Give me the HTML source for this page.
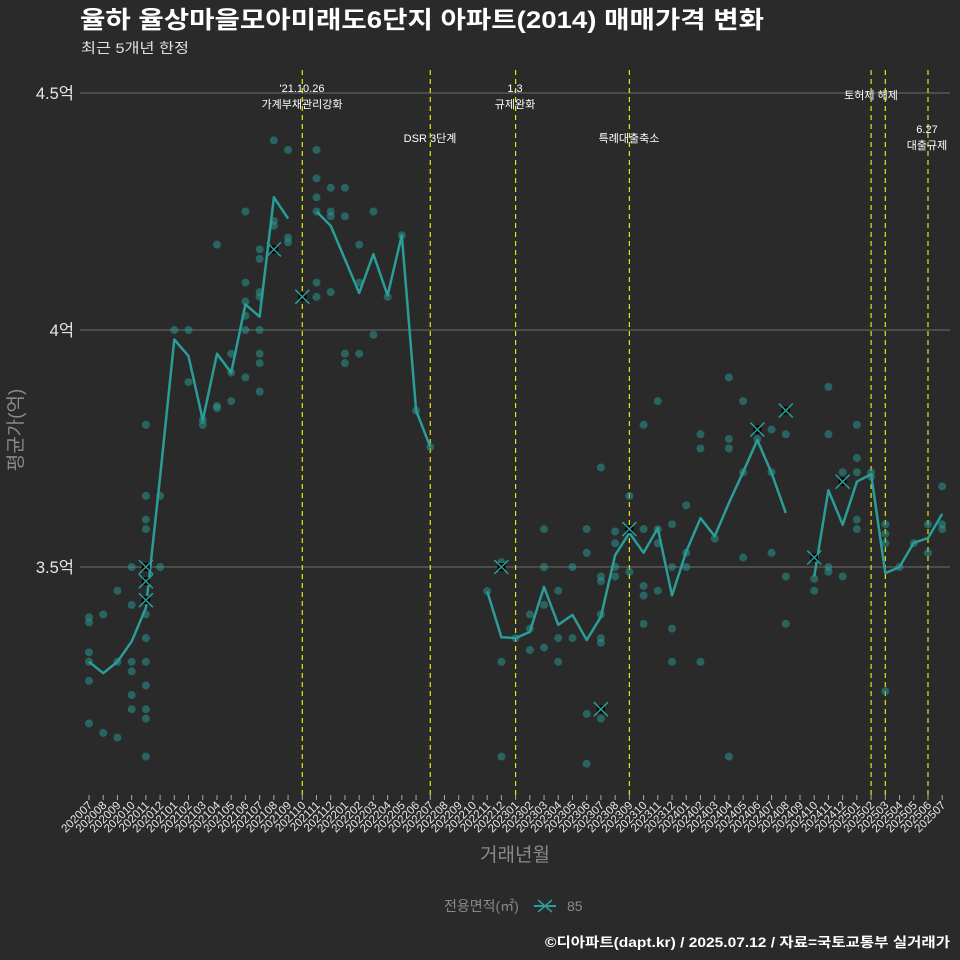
<!DOCTYPE html>
<html><head><meta charset="utf-8"><style>
body{margin:0;background:#2a2a2a;}
svg{display:block;font-family:"Liberation Sans","Noto Sans CJK KR",sans-serif;}
</style></head><body>
<svg id="chart" width="960" height="960" viewBox="0 0 960 960" xmlns="http://www.w3.org/2000/svg">
<rect width="960" height="960" fill="#2a2a2a"/>
<text x="80" y="28" font-size="24" font-weight="bold" fill="#ffffff" textLength="684" lengthAdjust="spacingAndGlyphs">율하 율상마을모아미래도6단지 아파트(2014) 매매가격 변화</text>
<text x="81" y="53" font-size="14" fill="#e0e0e0" textLength="108" lengthAdjust="spacingAndGlyphs">최근 5개년 한정</text>
<g id="grid"></g><g id="vlines"></g><g id="dots"></g><g id="line"></g><g id="xmarks"></g><g id="xaxis"></g><g id="yaxis"></g>
<text x="22" y="430" font-size="19" fill="#8a8a8a" transform="rotate(-90 22 430)" text-anchor="middle">평균가(억)</text>
<text x="515" y="861" font-size="19" fill="#8a8a8a" text-anchor="middle">거래년월</text>
<g>
<text x="444" y="911" font-size="14" fill="#8a8a8a">전용면적(㎡)</text>
<line x1="534" y1="906" x2="556" y2="906" stroke="#2a9d98" stroke-width="2"/>
<path d="M538 900 L552 912 M538 912 L552 900" stroke="#2a9d98" stroke-width="1.5"/>
<text x="567" y="911" font-size="14" fill="#8a8a8a">85</text>
</g>
<text x="950" y="947" font-size="13.5" font-weight="bold" fill="#ffffff" text-anchor="end" textLength="405" lengthAdjust="spacingAndGlyphs">©디아파트(dapt.kr) / 2025.07.12 / 자료=국토교통부 실거래가</text>
</svg>
<script>
const months = [];
for (let y = 2020, m = 7; months.length < 61; m++) { if (m > 12) { m = 1; y++; } months.push(String(y) + String(m).padStart(2, '0')); }
const lineValues = [3.30,3.276,3.30,3.343,3.414,3.69,3.98,3.945,3.81,3.95,3.91,4.054,4.028,4.28,4.235,null,4.25,4.22,4.149,4.078,4.16,4.073,4.20,3.83,3.753,null,null,null,3.449,3.352,3.35,3.363,3.458,3.378,3.399,3.346,3.395,3.525,3.572,3.53,3.582,3.44,3.532,3.603,3.565,3.635,3.70,3.768,3.698,3.614,null,3.48,3.662,3.589,3.68,3.696,3.487,3.50,3.551,3.561,3.612];
const dotMonths = ["202007","202008","202009","202010","202011","202012","202101","202102","202103","202104","202105","202106","202107","202108","202109","202111","202112","202201","202202","202203","202204","202205","202206","202207","202211","202212","202301","202302","202303","202304","202305","202306","202307","202308","202309","202310","202311","202312","202401","202402","202403","202404","202405","202406","202407","202408","202410","202411","202412","202501","202502","202503","202504","202505","202506","202507"];
const dotValues = [[3.394,3.383,3.32,3.30,3.26,3.17],[3.40,3.15],[3.45,3.30,3.14],[3.5,3.42,3.30,3.28,3.23,3.20],[3.80,3.65,3.60,3.58,3.5,3.40,3.35,3.30,3.25,3.20,3.18,3.10],[3.65,3.5],[4.0],[4.0,3.89],[3.80,3.81],[4.18,3.84,3.835],[3.95,3.91,3.85],[4.25,4.10,4.06,4.03,4.0,3.90],[4.17,4.15,4.08,4.07,4.0,3.95,3.93,3.87],[4.40,4.23,4.22],[4.38,4.195,4.185],[4.38,4.32,4.28,4.25,4.10,4.07],[4.30,4.25,4.24,4.08],[4.30,4.24,3.95,3.93],[4.18,4.10,3.95],[4.25,3.99],[4.07],[4.20],[3.83],[3.753],[3.449],[3.51,3.30,3.10],[3.35],[3.40,3.37,3.325],[3.58,3.50,3.42,3.33],[3.45,3.35,3.30],[3.50,3.35],[3.58,3.53,3.19,3.085],[3.71,3.48,3.47,3.40,3.35,3.34,3.18],[3.575,3.55,3.50,3.48],[3.65,3.49],[3.80,3.58,3.46,3.44,3.38],[3.85,3.58,3.55,3.45],[3.59,3.50,3.37,3.30],[3.63,3.53,3.50],[3.78,3.75,3.30],[3.56],[3.90,3.77,3.75,3.10],[3.85,3.70,3.52],[3.77],[3.79,3.70,3.53],[3.78,3.48,3.38],[3.475,3.45],[3.88,3.78,3.50,3.49],[3.70,3.48],[3.80,3.73,3.70,3.60,3.58],[3.70,3.69],[3.59,3.57,3.55,3.238],[3.50],[3.55],[3.59,3.53],[3.67,3.59,3.58]];
const crossMonths = ["202011","202011","202011","202108","202110","202212","202307","202309","202406","202408","202410","202412"];
const crossValues = [3.50,3.47,3.43,4.17,4.07,3.50,3.20,3.58,3.79,3.83,3.52,3.68];
const yTicks = [3.5,4.0,4.5];
const yTickLabels = ["3.5억","4억","4.5억"];
const eventMonths = ["202110","202207","202301","202309","202502","202503","202506"];
const eventLabels = [["'21.10.26","가계부채관리강화"],["DSR 3단계"],["1.3","규제완화"],["특례대출축소"],["토허제 해제"],[],["6.27","대출규제"]];
const eventLabelY = [92,142,92,142,99,0,133];
const eventLabelX = [302,430,515,629,871,885,927];

const NS="http://www.w3.org/2000/svg";
const xScale = i => 89 + i*14.22;
const xOf = m => xScale(months.indexOf(m));
const yScale = v => 567 - (v-3.5)*474;
function mk(tag, attrs, parent){const e=document.createElementNS(NS,tag);for(const k in attrs)e.setAttribute(k,attrs[k]);document.getElementById(parent).appendChild(e);return e;}

yTicks.forEach((t,i)=>{
  const l=mk('line',{x1:80,x2:950,y1:yScale(t),y2:yScale(t),stroke:'#6e6e6e','stroke-width':1},'grid');
  
  
  const tx=mk('text',{x:74,y:yScale(t)+6,'font-size':16.5,fill:'#e6e6e6','text-anchor':'end'},'yaxis');
  tx.textContent=yTickLabels[i];
  
  
});
eventMonths.forEach((m,i)=>{
  const l=mk('line',{x1:xOf(m),x2:xOf(m),y1:70,y2:795,stroke:'#e5e510','stroke-width':1.2,'stroke-dasharray':'5 4'},'vlines');
  
  
  eventLabels[i].forEach((s,j)=>{
    const t=mk('text',{x:eventLabelX[i],y:eventLabelY[i]+j*16,'font-size':11,fill:'#ffffff','text-anchor':'middle'},'vlines');
    t.textContent=s;
    
    
  });
});
dotMonths.forEach((m,i)=>{dotValues[i].forEach(v=>{
  const c=mk('circle',{cx:xOf(m),cy:yScale(v),r:4,fill:'#2a9d98','fill-opacity':0.5},'dots');
  
  
});});
let d='',pen=false;
lineValues.forEach((v,i)=>{if(v===null){pen=false;return;}d+=(pen?'L':'M')+xScale(i).toFixed(1)+' '+yScale(v).toFixed(1)+' ';pen=true;});
const p=mk('path',{d:d,fill:'none',stroke:'#2a9d98','stroke-width':2.5,'stroke-linejoin':'round'},'line');


crossMonths.forEach((m,i)=>{
  const x=xOf(m),y=yScale(crossValues[i]);
  const c=mk('rect',{x:x-4,y:y-4,width:8,height:8,fill:'#000'},'xmarks');
  
  
  const q=mk('path',{d:`M${x-7} ${y-7}L${x+7} ${y+7}M${x-7} ${y+7}L${x+7} ${y-7}`,stroke:'#2a9d98','stroke-width':1.5},'xmarks');
  
  
});
months.forEach((m,i)=>{
  const x=xScale(i);
  const tk=mk('line',{x1:x,x2:x,y1:795,y2:800,stroke:'#aaaaaa','stroke-width':1},'xaxis');
  
  
  const t=mk('text',{x:x+4,y:806,'font-size':11.5,fill:'#e8e8e8','text-anchor':'end',transform:`rotate(-45 ${x+4} 806)`},'xaxis');
  t.textContent=m;
  
  
});
</script>
</body></html>
